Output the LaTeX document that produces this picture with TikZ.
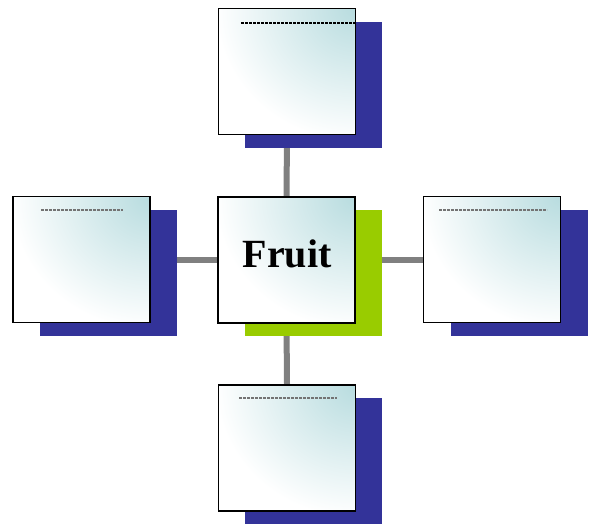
\documentclass[tikz,border=0pt]{standalone}
\usepackage{fontspec}
\setmainfont{Liberation Serif}
\definecolor{shadowblue}{HTML}{333399}
\definecolor{shadowgreen}{HTML}{99CC00}
\definecolor{tealtint}{HTML}{B8DCDF}
\definecolor{linkgray}{HTML}{808080}
\pgfdeclarelayer{background}
\pgfsetlayers{background,main}
\tikzset{
  card/.style={draw=black, line width=1.6pt, minimum width=137pt, minimum height=126pt,
    inner sep=0pt, fill=white,
    path picture={\shade[inner color=tealtint, outer color=white]
      (path picture bounding box.north east) ellipse [x radius=140pt, y radius=132pt];}},
  shadowbox/.style={minimum width=137pt, minimum height=126pt, inner sep=0pt},
  link/.style={draw=linkgray, line width=6pt},
  label/.style={font=\bfseries\fontsize{40}{40}\selectfont, inner sep=0pt},
  dashmark/.style={line width=1.3pt, dash pattern=on 2.6pt off 1.4pt}
}
\begin{document}
\begin{tikzpicture}[x=1pt,y=-1pt]
\useasboundingbox (0,0) rectangle (596,523);
% shadows
\node[shadowbox, fill=shadowblue] (ts) at (313.5,85) {};
\node[shadowbox, fill=shadowblue] (ls) at (108.5,273) {};
\node[shadowbox, fill=shadowgreen] (cs) at (313.5,273) {};
\node[shadowbox, fill=shadowblue] (rs) at (519.5,273) {};
\node[shadowbox, fill=shadowblue] (bs) at (313.5,460.5) {};
% boxes
\node[card] (top) at (287,71.5) {};
\node[card] (left) at (81.5,259.5) {};
\node[card] (center) at (286.5,260) {};
\node[card] (right) at (492,259.5) {};
\node[card] (bottom) at (287,448) {};
\node[label] (fruit) at (287,254) {Fruit};
% connectors (behind the shadows)
\begin{pgfonlayer}{background}
\coordinate (ctr) at (287,260);
\draw[link] (top.south) -- (center.north);
\draw[link] (left.east |- ctr) -- (center.west |- ctr);
\draw[link] (center.east |- ctr) -- (right.west |- ctr);
\draw[link] (center.south) -- (bottom.north);
\end{pgfonlayer}
% placeholder dashes
\draw[dashmark, black] (241,23) -- (355,23);
\draw[dashmark, black!55] (41,210) -- (123,210);
\draw[dashmark, black!55] (439,210) -- (547,210);
\draw[dashmark, black!55] (239,398) -- (337,398);
\end{tikzpicture}
\end{document}
